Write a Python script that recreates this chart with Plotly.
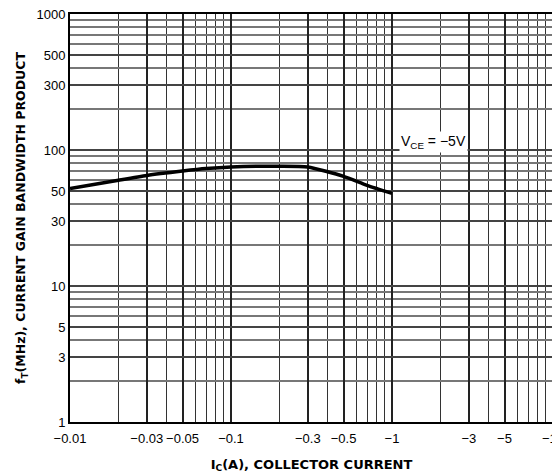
import math
import plotly.graph_objects as go

# Data (|Ic| in A, fT in MHz)
ic_amps = [0.01, 0.02, 0.03, 0.05, 0.07, 0.1, 0.2, 0.3, 0.5, 0.7, 1.0]
ft_mhz = [52, 60, 65, 70, 73, 75, 76, 75, 64, 55, 48]

x_tick_vals = [0.01, 0.03, 0.05, 0.1, 0.3, 0.5, 1, 3, 5, 10]
x_tick_text = ["\u22120.01", "\u22120.03", "\u22120.05", "\u22120.1", "\u22120.3",
               "\u22120.5", "\u22121", "\u22123", "\u22125", "\u221210"]
y_tick_vals = [1, 3, 5, 10, 30, 50, 100, 300, 500, 1000]
y_tick_text = ["1", "3", "5", "10", "30", "50", "100", "300", "500", "1000"]

# annotation anchor (A, MHz)
annot_x, annot_y = 1.1, 115

fig = go.Figure()
fig.add_trace(go.Scatter(
    x=ic_amps, y=ft_mhz, mode="lines",
    line=dict(color="black", width=3.5, shape="spline", smoothing=0.6),
    showlegend=False, hoverinfo="skip",
))

tick_family = "Liberation Sans, Arial, sans-serif"
title_family = "DejaVu Sans, sans-serif"

fig.add_annotation(
    x=math.log10(annot_x), y=math.log10(annot_y), xref="x", yref="y",
    xanchor="left", yanchor="middle",
    text="V<sub>CE</sub> = \u22125V", showarrow=False,
    font=dict(family=tick_family, size=14, color="black"),
    bgcolor="white", borderpad=1,
)

fig.update_layout(
    width=552, height=466,
    margin=dict(l=62, r=7, t=6, b=52),
    paper_bgcolor="white", plot_bgcolor="white",
    font=dict(family=tick_family, size=13, color="black"),
    xaxis=dict(
        type="log", range=[-2, 1], automargin=False,
        tickmode="array", tickvals=x_tick_vals, ticktext=x_tick_text,
        tickangle=0, ticklabeloverflow="allow",
        showgrid=True, gridcolor="#222", gridwidth=1.6,
        minor=dict(dtick="D1", showgrid=True, gridcolor="#333", gridwidth=1.3, ticks=""),
        showline=True, linecolor="black", linewidth=2, mirror=True,
        ticks="", zeroline=False, ticklabelstandoff=3,
        tickfont=dict(family=tick_family, size=13),
        title=dict(text="<b>I<sub>C</sub>(A), COLLECTOR CURRENT</b>",
                   font=dict(family=title_family, size=13), standoff=15),
    ),
    yaxis=dict(
        type="log", range=[0, 3], automargin=False,
        tickmode="array", tickvals=y_tick_vals, ticktext=y_tick_text,
        ticklabeloverflow="allow",
        showgrid=True, gridcolor="#444", gridwidth=1.6,
        minor=dict(dtick="D1", showgrid=True, gridcolor="#777", gridwidth=1.5, ticks=""),
        showline=True, linecolor="black", linewidth=2, mirror=True,
        ticks="", zeroline=False,
        tickfont=dict(family=tick_family, size=13),
        title=dict(text="<b>f<sub>T</sub>(MHz), CURRENT GAIN BANDWIDTH PRODUCT</b>",
                   font=dict(family=title_family, size=12.5), standoff=8),
    ),
)

fig.write_html("out.html")
